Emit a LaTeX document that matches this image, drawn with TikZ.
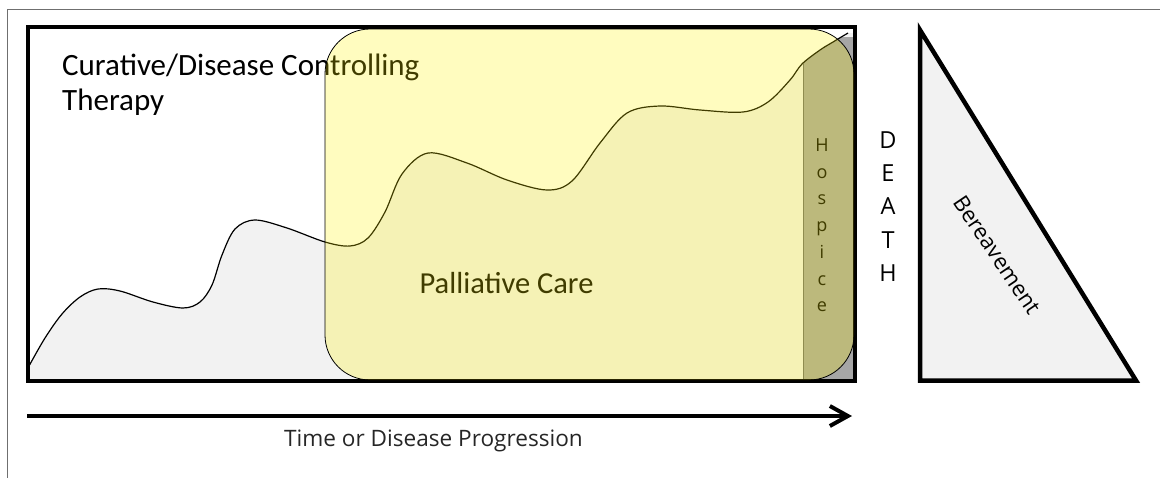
\documentclass[tikz,border=0pt]{standalone}
\usepackage{fontspec}
\setmainfont{Carlito}
\newfontfamily\osans{Open Sans}
\usetikzlibrary{arrows.meta}
\definecolor{lgray}{HTML}{F2F2F2}
\definecolor{dgray}{HTML}{A6A6A6}
\definecolor{framegray}{HTML}{6F6F6F}
\definecolor{txtgray}{HTML}{262626}
\definecolor{hline}{HTML}{6A6A6A}
\tikzset{
  frameline/.style={draw=framegray, line width=1pt},
  boxline/.style={draw=black, line width=4pt},
  curveline/.style={draw=black, line width=1.2pt},
  palbox/.style={draw=black, line width=0.8pt, fill=yellow, fill opacity=0.25, rounded corners=45pt},
  headtext/.style={font=\fontsize{31}{37}\selectfont, inner sep=0pt},
  paltext/.style={font=\fontsize{30.5}{36}\selectfont, inner sep=0pt},
  hosptext/.style={font=\osans\fontsize{18}{22}\selectfont, inner sep=0pt, anchor=base},
  deathtext/.style={font=\osans\fontsize{23.5}{28}\selectfont, inner sep=0pt, anchor=base},
  bertext/.style={font=\osans\fontsize{22}{26}\selectfont, inner sep=0pt},
  timetext/.style={font=\osans\fontsize{22.6}{27}\selectfont, text=txtgray, inner sep=0pt, anchor=base},
  axis/.style={draw=black, line width=4pt, -{Straight Barb[length=18pt,width=20pt]}},
}
\def\curvepath{plot[smooth,tension=0.55] coordinates {(29,366) (45,338) (62,314) (80,297) (98,289) (120,291) (153,302) (183,308) (200,302) (212,285) (222,255) (235,229) (255,220) (287,228) (325,242) (350,246) (368,238) (385,212) (402,174) (428,153) (467,163) (507,180) (547,190) (572,181) (600,143) (627,113) (660,106) (700,110) (743,112) (768,102) (790,80) (802,64) (820,50) (833,42) (848,33)}}
\begin{document}
\begin{tikzpicture}[x=1pt,y=-1pt]
\useasboundingbox (0,0) rectangle (1160,477);
% outer frame
\draw[frameline] (1161,9) -- (7,9) -- (7,478);
% area under curve
\fill[lgray] \curvepath -- (855,33) -- (855,380) -- (29,380) -- cycle;
\begin{scope}
  \clip (803,37) rectangle (855,380);
  \fill[dgray] \curvepath -- (855,33) -- (855,380) -- (29,380) -- cycle;
\end{scope}
\draw[draw=hline, line width=0.8pt] (803,64) -- (803,380);
\draw[curveline] \curvepath;
% main box
\draw[boxline] (28,27) rectangle (855,380.5);
% texts under the palliative layer
\node[headtext, anchor=base west] (cur1) at (62,75) {Curative/Disease Controlling};
\node[headtext, anchor=base west] (cur2) at (62,110) {Therapy};
\node[paltext, anchor=base] (pal) at (506.5,293) {Palliative Care};
\foreach \l [count=\i] in {H,o,s,p,i,c,e}{
  \node[hosptext] (hos\i) at (822,{151.5+26.7*(\i-1)}) {\l};
}
% palliative care layer
\draw[palbox] (325,29) rectangle (854,380);
% death
\foreach \l [count=\i] in {D,E,A,T,H}{
  \node[deathtext] (death\i) at (888,{148.3+33.3*(\i-1)}) {\l};
}
% bereavement triangle
\draw[line width=4.5pt, fill=lgray] (920,30) -- (920,380.5) -- (1136,380.5) -- cycle;
\node[bertext, rotate=-56] (ber) at (997,255) {Bereavement};
% time axis
\coordinate (ax0) at (27,416);
\coordinate (ax1) at (852,416);
\draw[axis] (ax0) -- (ax1);
\node[timetext] (time) at (433.5,446) {Time or Disease Progression};
\end{tikzpicture}
\end{document}
